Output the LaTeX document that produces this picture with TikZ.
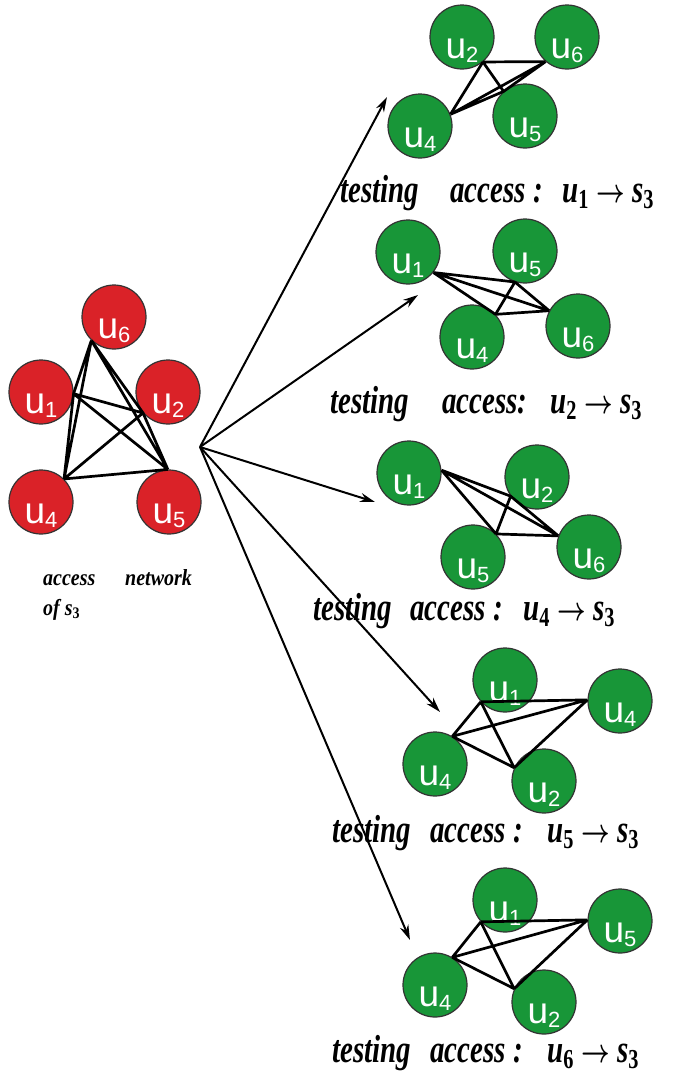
\documentclass[tikz,border=0pt]{standalone}
\usepackage{graphicx}
\usepackage{fontspec}
\setmainfont{Liberation Serif}
\newfontfamily\nodefont{Liberation Sans}
\usetikzlibrary{arrows.meta}
\definecolor{nodered}{RGB}{218,34,40}
\definecolor{nodegreen}{RGB}{24,150,56}
% vertex label: baseline of "u" sits 21pt below the circle centre
\newcommand{\ulab}[1]{\raisebox{-21pt}{u\raisebox{-4pt}{\fontsize{22}{22}\selectfont #1}}}
% italic variable with an upright subscript
\newcommand{\usub}[2]{#1\textsubscript{\upshape #2}}
% caption text, stretched vertically
\newcommand{\tall}[1]{\scalebox{1}[1.35]{#1}}
\newcommand{\casetext}[1]{\tall{\usub{u}{#1} {\boldmath$\rightarrow$} \usub{s}{3}}}
\begin{document}
\begin{tikzpicture}[x=1pt,y=-1pt,
  vert/.style={circle, minimum size=64pt, inner sep=0pt, draw=black!80, line width=1.2pt,
    text height=0pt, text depth=0pt,
    font=\nodefont\fontsize{37}{37}\selectfont, text=white},
  redv/.style={vert, fill=nodered},
  greenv/.style={vert, fill=nodegreen},
  link/.style={line width=2.7pt, black},
  arr/.style={line width=2pt, black, -{Stealth[length=15pt, width=9pt]}},
  lbl/.style={anchor=base west, inner sep=0pt, font=\bfseries\itshape\fontsize{29}{29}\selectfont},
  smalllbl/.style={anchor=base west, inner sep=0pt, font=\bfseries\itshape\fontsize{20}{20}\selectfont}]
\useasboundingbox (0,0) rectangle (681,1077);

% access network of s3
\node[redv] (r6) at (114,317) {\ulab{6}};
\node[redv] (r1) at (41,392) {\ulab{1}};
\node[redv] (r2) at (168,392) {\ulab{2}};
\node[redv] (r4) at (41,502) {\ulab{4}};
\node[redv] (r5) at (169,502) {\ulab{5}};
\draw[link] (r6.226) -- (r1.357) (r6.226) -- (r4.45) (r6.226) -- (r2.220) (r6.226) -- (r5.92)
  (r1.357) -- (r2.220) (r1.357) -- (r5.92) (r1.357) -- (r4.45)
  (r2.220) -- (r4.45) (r2.220) -- (r5.92) (r4.45) -- (r5.92);
\node[smalllbl] (na) at (43,585) {\scalebox{1}[1.15]{access}};
\node[smalllbl] (nb) at (125,585) {\scalebox{1}[1.15]{network}};
\node[smalllbl] (nc) at (43,615) {\scalebox{1}[1.15]{of \usub{s}{3}}};

% arrows to the test cases
\coordinate (src) at (200,447);
\coordinate (e1) at (387,97);
\coordinate (e2) at (418,295);
\coordinate (e3) at (375,502);
\coordinate (e4) at (440,712);
\coordinate (e5) at (410,940);
\foreach \e in {e1,e2,e3,e4,e5} \draw[arr] (src) -- (\e);

% test case u1
\node[greenv] (a2) at (462,37) {\ulab{2}};
\node[greenv] (a6) at (567,37) {\ulab{6}};
\node[greenv] (a4) at (420,126) {\ulab{4}};
\node[greenv] (a5) at (525,116) {\ulab{5}};
\draw[link] (a2.310) -- (a6.229) (a2.310) -- (a4.21) (a2.310) -- (a5.131)
  (a6.229) -- (a4.21) (a6.229) -- (a5.131) (a4.21) -- (a5.131);
\node[lbl] (l1a) at (340,202) {\tall{testing}};
\node[lbl] (l1b) at (450,202) {\tall{access :}};
\node[lbl] (l1c) at (562,202) {\casetext{1}};

% test case u2
\node[greenv] (b1) at (408,252) {\ulab{1}};
\node[greenv] (b5) at (525,251) {\ulab{5}};
\node[greenv] (b4) at (472,337) {\ulab{4}};
\node[greenv] (b6) at (578,326) {\ulab{6}};
\draw[link] (b1.321) -- (b5.252) (b1.321) -- (b4.44) (b1.321) -- (b6.152)
  (b5.252) -- (b4.44) (b5.252) -- (b6.152) (b4.44) -- (b6.152);
\node[lbl] (l2a) at (330,413) {\tall{testing}};
\node[lbl] (l2b) at (442,413) {\tall{access:}};
\node[lbl] (l2c) at (550,413) {\casetext{2}};

% test case u4
\node[greenv] (c1) at (409,473) {\ulab{1}};
\node[greenv] (c2) at (537,477) {\ulab{2}};
\node[greenv] (c5) at (473,557) {\ulab{5}};
\node[greenv] (c6) at (589,547) {\ulab{6}};
\draw[link] (c1.5) -- (c2.216) (c1.5) -- (c5.45) (c1.5) -- (c6.160)
  (c2.216) -- (c5.45) (c2.216) -- (c6.160) (c5.45) -- (c6.160);
\node[lbl] (l3a) at (313,620) {\tall{testing}};
\node[lbl] (l3b) at (410,620) {\tall{access :}};
\node[lbl] (l3c) at (523,620) {\casetext{4}};

% test case u5
\node[greenv] (d1) at (505,680) {\ulab{1}};
\node[greenv] (d4r) at (620,701) {\ulab{4}};
\node[greenv] (d4l) at (435,764) {\ulab{4}};
\node[greenv] (d2) at (544,781) {\ulab{2}};
\draw[link] (d1.222) -- (d4r.178) (d1.222) -- (d4l.58) (d1.222) -- (d2.156)
  (d4l.58) -- (d4r.178) (d4l.58) -- (d2.156) (d2.156) -- (d4r.178);
\node[lbl] (l4a) at (332,842) {\tall{testing}};
\node[lbl] (l4b) at (430,842) {\tall{access :}};
\node[lbl] (l4c) at (547,842) {\casetext{5}};

% test case u6
\node[greenv] (f1) at (505,900) {\ulab{1}};
\node[greenv] (f5) at (620,921) {\ulab{5}};
\node[greenv] (f4) at (435,985) {\ulab{4}};
\node[greenv] (f2) at (544,1002) {\ulab{2}};
\draw[link] (f1.222) -- (f5.178) (f1.222) -- (f4.58) (f1.222) -- (f2.156)
  (f4.58) -- (f5.178) (f4.58) -- (f2.156) (f2.156) -- (f5.178);
\node[lbl] (l5a) at (332,1062) {\tall{testing}};
\node[lbl] (l5b) at (430,1062) {\tall{access :}};
\node[lbl] (l5c) at (547,1062) {\casetext{6}};
\end{tikzpicture}
\end{document}
